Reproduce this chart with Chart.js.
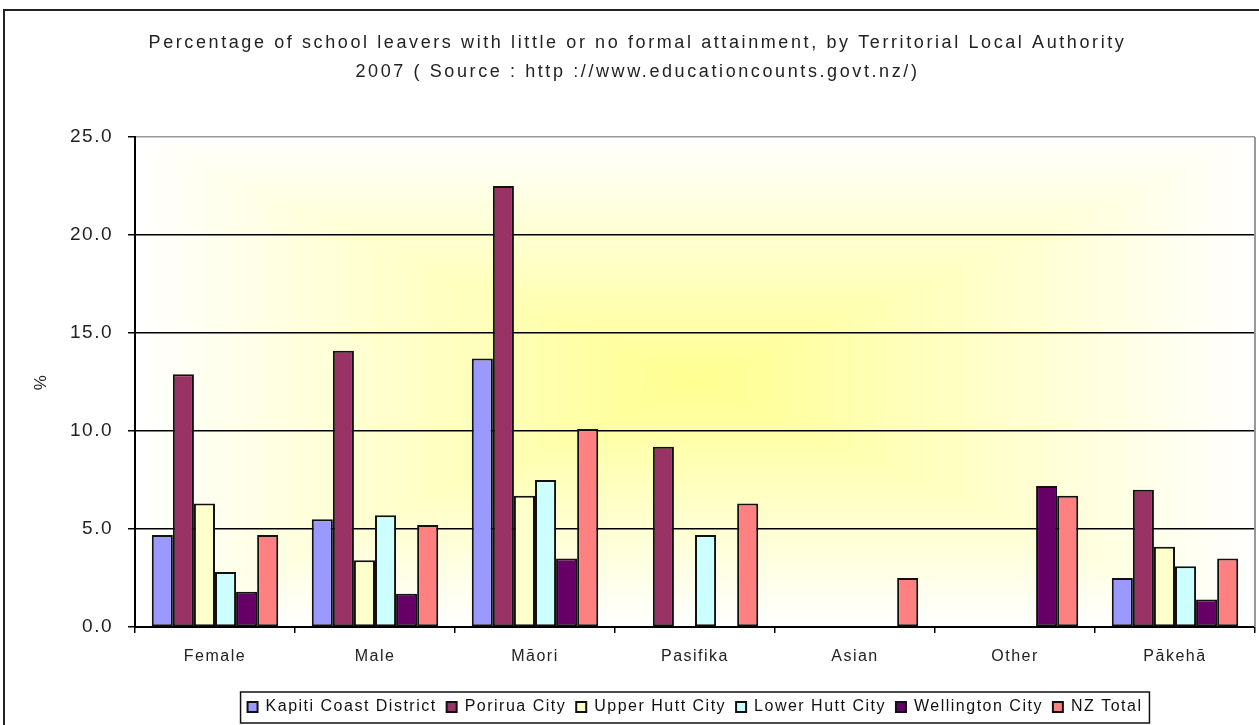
<!DOCTYPE html>
<html>
<head>
<meta charset="utf-8">
<script src="https://cdn.jsdelivr.net/npm/chart.js@4"></script>
<style>
  body { margin: 0; background: #fff; }
  #wrap { width: 1259px; height: 725px; }
</style>
</head>
<body>
<div id="wrap"><canvas id="chart" width="1259" height="725"></canvas></div>
<script>
/* ===== DATA ===== */
const categories = ["Female", "Male", "Māori", "Pasifika", "Asian", "Other", "Pākehā"];

const kapiti = [4.7, 5.5, 13.7, null, null, null, 2.5];
const porirua = [12.9, 14.1, 22.5, 9.2, null, null, 7.0];
const upperHutt = [6.3, 3.4, 6.7, null, null, null, 4.1];
const lowerHutt = [2.8, 5.7, 7.5, 4.7, null, null, 3.1];
const wellington = [1.8, 1.7, 3.5, null, null, 7.2, 1.4];
const nzTotal = [4.7, 5.2, 10.1, 6.3, 2.5, 6.7, 3.5];

const seriesNames = ["Kapiti Coast District", "Porirua City", "Upper Hutt City", "Lower Hutt City", "Wellington City", "NZ Total"];
const seriesColors = ["#9999FF", "#993366", "#FFFFCC", "#CCFFFF", "#660066", "#FF8080"];
const seriesValues = [kapiti, porirua, upperHutt, lowerHutt, wellington, nzTotal];

const yTicks = [0, 5, 10, 15, 20, 25];

const titleLines = [
  "Percentage of school leavers with little or no formal attainment, by Territorial Local Authority",
  "2007 ( Source : http ://www.educationcounts.govt.nz/)",
];

/* ===== HELPERS ===== */
const LETTER_SPACING = "1.5px";
const TITLE_SPACING = "2.6px";

function setSpacing(chart) {
  chart.ctx.letterSpacing = LETTER_SPACING;
}

// Excel style "from centre" fill: four triangles, each fading to white
function drawPlotFill(ctx, area) {
  const { left: L, right: R, top: T, bottom: B } = area;
  const cx = (L + R) / 2;
  const cy = (T + B) / 2;
  const parts = [
    [[L, T], [R, T], [cx, T]],
    [[R, B], [L, B], [cx, B]],
    [[L, B], [L, T], [L, cy]],
    [[R, T], [R, B], [R, cy]],
  ];
  parts.forEach(([a, b, end]) => {
    const g = ctx.createLinearGradient(cx, cy, end[0], end[1]);
    g.addColorStop(0, "#FFFF90");
    g.addColorStop(1, "#FFFFFF");
    ctx.fillStyle = g;
    ctx.beginPath();
    ctx.moveTo(cx, cy);
    ctx.lineTo(a[0], a[1]);
    ctx.lineTo(b[0], b[1]);
    ctx.closePath();
    ctx.fill();
    ctx.strokeStyle = g;
    ctx.lineWidth = 1;
    ctx.stroke();
  });
}

/* ===== PLUGIN ===== */
const framePlugin = {
  id: "frame",
  afterInit(chart) {
    // wider spacing for the title only
    const block = chart.titleBlock;
    if (!block) return;
    const draw = block.draw.bind(block);
    block.draw = (area) => {
      chart.ctx.letterSpacing = TITLE_SPACING;
      draw(area);
      setSpacing(chart);
    };
  },
  beforeUpdate(chart) {
    setSpacing(chart);
  },
  afterLayout(chart) {
    const legend = chart.legend;
    const area = chart.chartArea;
    if (legend) {
      legend.left = area.left;
      legend.right = area.right;
      legend.width = area.right - area.left;
    }
  },
  beforeDraw(chart) {
    const ctx = chart.ctx;
    setSpacing(chart);
    ctx.save();
    // outer chart border
    ctx.strokeStyle = "#222";
    ctx.lineWidth = 2;
    ctx.beginPath();
    ctx.moveTo(4, chart.height);
    ctx.lineTo(4, 10);
    ctx.lineTo(chart.width, 10);
    ctx.stroke();
    drawPlotFill(ctx, chart.chartArea);
    ctx.restore();
  },
  afterDatasetsDraw(chart) {
    const ctx = chart.ctx;
    const area = chart.chartArea;
    ctx.save();
    ctx.strokeStyle = "#999";
    ctx.lineWidth = 2;
    ctx.beginPath();
    ctx.moveTo(area.right, area.top);
    ctx.lineTo(area.right, area.bottom);
    ctx.stroke();
    ctx.restore();
  },
  afterDraw(chart) {
    const legend = chart.legend;
    if (!legend || !legend.legendHitBoxes.length) return;
    const boxes = legend.legendHitBoxes;
    const first = boxes[0];
    const last = boxes[boxes.length - 1];
    const ctx = chart.ctx;
    ctx.save();
    ctx.strokeStyle = "#111";
    ctx.lineWidth = 1.5;
    ctx.strokeRect(first.left - 7, legend.top + 3, last.left + last.width - first.left + 14, legend.bottom - legend.top - 5);
    ctx.restore();
  },
};

/* ===== CHART ===== */
Chart.defaults.font.family = "'Liberation Sans', Arial, sans-serif";
Chart.defaults.color = "#222";

new Chart(document.getElementById("chart"), {
  type: "bar",
  data: {
    labels: categories,
    datasets: seriesNames.map((name, i) => ({
      label: name,
      data: seriesValues[i],
      backgroundColor: seriesColors[i],
      borderColor: "#111",
      borderWidth: 2,
      borderSkipped: false,
      categoryPercentage: 0.79,
      barPercentage: 1.0,
    })),
  },
  options: {
    responsive: false,
    animation: false,
    layout: { padding: { left: 20, right: 4, top: 0, bottom: 0 } },
    plugins: {
      title: {
        display: true,
        text: titleLines,
        color: "#222",
        font: { size: 18, weight: "normal", lineHeight: 29 / 18 },
        padding: { top: 28.5, bottom: 50.5 },
      },
      legend: {
        position: "bottom",
        labels: {
          boxWidth: 10,
          boxHeight: 10,
          padding: 10,
          color: "#111",
          font: { size: 16 },
        },
      },
      tooltip: { enabled: false },
    },
    scales: {
      x: {
        afterFit: (scale) => { scale.height = 62; },
        grid: {
          offset: true,
          drawOnChartArea: false,
          color: "#000",
          tickLength: 6,
          lineWidth: 1.5,
        },
        border: { display: true, color: "#000", width: 2 },
        ticks: { font: { size: 16 }, color: "#222", padding: 14 },
      },
      y: {
        min: 0,
        max: 25,
        afterFit: (scale) => { scale.width = 115; },
        afterBuildTicks: (scale) => { scale.ticks = yTicks.map((v) => ({ value: v })); },
        title: {
          display: true,
          text: "%",
          color: "#222",
          font: { size: 17 },
          padding: { top: 11, bottom: 0 },
        },
        grid: {
          color: (c) => (c.tick && c.tick.value === 25 ? "#999" : "#000"),
          tickColor: "#000",
          lineWidth: 1.5,
          tickLength: 7,
        },
        border: { display: true, color: "#000", width: 2 },
        ticks: {
          font: { size: 19 },
          color: "#222",
          padding: 15,
          callback: (v) => Number(v).toFixed(1),
        },
      },
    },
  },
  plugins: [framePlugin],
});
</script>
</body>
</html>
